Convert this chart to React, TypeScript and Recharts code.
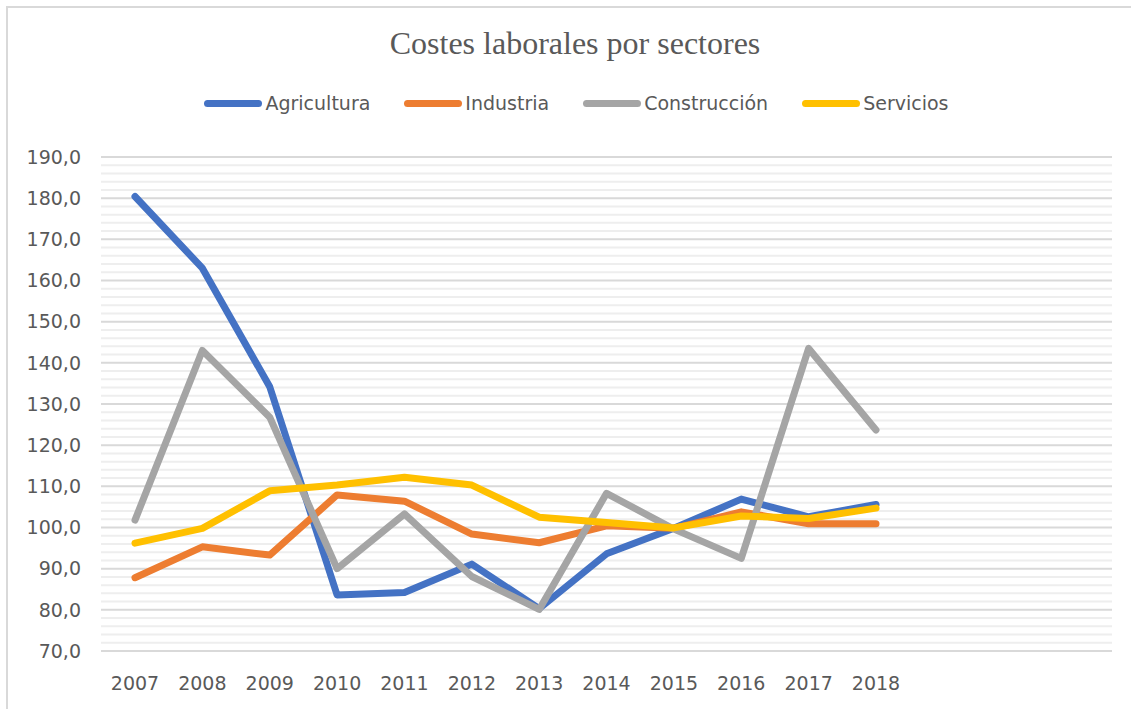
import React from "react";
import {
  LineChart,
  Line,
  XAxis,
  YAxis,
  CartesianGrid,
  ReferenceLine,
} from "recharts";

// --- Data ---
const years = ["2007", "2008", "2009", "2010", "2011", "2012", "2013", "2014", "2015", "2016", "2017", "2018"];
const agricultura = [180.4, 163.0, 134.2, 83.6, 84.2, 91.1, 80.3, 93.6, 99.8, 106.9, 102.6, 105.6];
const industria = [87.8, 95.3, 93.3, 107.9, 106.4, 98.4, 96.3, 100.4, 99.8, 103.8, 100.9, 100.9];
const construccion = [101.8, 143.0, 126.8, 90.0, 103.3, 88.1, 80.1, 108.3, 99.6, 92.5, 143.5, 123.7];
const servicios = [96.2, 99.8, 108.9, 110.3, 112.2, 110.3, 102.5, 101.2, 99.9, 102.8, 102.2, 104.7];
const yTicks = [70, 80, 90, 100, 110, 120, 130, 140, 150, 160, 170, 180, 190];

const SERIES = [
  { key: "agricultura", name: "Agricultura", color: "#4472C4" },
  { key: "industria", name: "Industria", color: "#ED7D31" },
  { key: "construccion", name: "Construcción", color: "#A5A5A5" },
  { key: "servicios", name: "Servicios", color: "#FFC000" },
];

const data = years.map((year, i) => ({
  year,
  agricultura: agricultura[i],
  industria: industria[i],
  construccion: construccion[i],
  servicios: servicios[i],
}));

// minor gridlines every 2 units between the major ticks
const minorTicks: number[] = [];
yTicks.slice(0, -1).forEach((t) => {
  [2, 4, 6, 8].forEach((d) => minorTicks.push(t + d));
});

const FONT = "'DejaVu Sans', sans-serif";
const TEXT = "#595959";

const ChartLegend = () => (
  <div
    style={{
      position: "absolute",
      left: 0,
      top: 92,
      width: 1153,
      display: "flex",
      justifyContent: "center",
      alignItems: "center",
      fontFamily: FONT,
      fontSize: 19,
      color: TEXT,
    }}
  >
    {SERIES.map((s, i) => (
      <div key={s.key} style={{ display: "flex", alignItems: "center", marginLeft: i === 0 ? 0 : 34 }}>
        <div style={{ width: 58, height: 7, borderRadius: 4, background: s.color, marginRight: 3 }} />
        <span>{s.name}</span>
      </div>
    ))}
  </div>
);

export default function App() {
  return (
    <div style={{ position: "fixed", left: 0, top: 0, width: 1131, height: 709, overflow: "hidden", background: "#fff" }}>
      <div
        style={{
          position: "absolute",
          left: 6,
          top: 6,
          width: 1200,
          height: 800,
          border: "2px solid #d9d9d9",
        }}
      />
      <div
        style={{
          position: "absolute",
          left: 0,
          top: 25,
          width: 1150,
          textAlign: "center",
          fontFamily: "'Liberation Serif', serif",
          fontSize: 32,
          color: TEXT,
        }}
      >
        Costes laborales por sectores
      </div>
      <ChartLegend />
      <div style={{ position: "absolute", left: 0, top: 0 }}>
        <LineChart width={1131} height={709} data={data} margin={{ top: 157, right: 19, bottom: 28, left: 0 }}>
          <CartesianGrid vertical={false} stroke="#d9d9d9" strokeWidth={2} />
          {minorTicks.map((v) => (
            <ReferenceLine key={v} y={v} stroke="#eeeeee" strokeWidth={2} />
          ))}
          <XAxis
            dataKey="year"
            axisLine={false}
            tickLine={false}
            padding={{ left: 34, right: 236 }}
            tick={{ fill: TEXT, fontSize: 19, fontFamily: FONT }}
            tickMargin={20}
            interval={0}
          />
          <YAxis
            width={101}
            domain={[70, 190]}
            ticks={yTicks}
            axisLine={false}
            tickLine={false}
            tickMargin={14}
            tickFormatter={(v: number) => v.toFixed(1).replace(".", ",")}
            tick={{ fill: TEXT, fontSize: 19, fontFamily: FONT }}
          />
          {SERIES.map((s) => (
            <Line
              key={s.key}
              dataKey={s.key}
              name={s.name}
              stroke={s.color}
              strokeWidth={7}
              strokeLinecap="round"
              strokeLinejoin="round"
              dot={false}
              activeDot={false}
              isAnimationActive={false}
            />
          ))}
        </LineChart>
      </div>
    </div>
  );
}
